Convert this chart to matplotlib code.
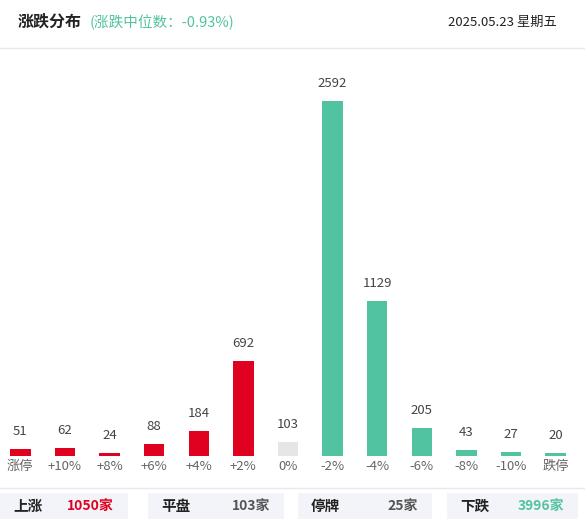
import matplotlib
matplotlib.use("Agg")
import matplotlib.pyplot as plt
from matplotlib.patches import Rectangle

plt.rcParams['font.family'] = ['Noto Sans CJK SC', 'DejaVu Sans']

categories = ['涨停', '+10%', '+8%', '+6%', '+4%', '+2%', '0%', '-2%', '-4%', '-6%', '-8%', '-10%', '跌停']
values = [51, 62, 24, 88, 184, 692, 103, 2592, 1129, 205, 43, 27, 20]
kinds = ['up'] * 6 + ['flat'] + ['down'] * 6
summary_labels = ['上涨', '平盘', '停牌', '下跌']
summary_values = ['1050家', '103家', '25家', '3996家']

RED = '#E0001F'
GREEN = '#52C3A0'
GRAY = '#E6E6E6'
cmap = {'up': RED, 'flat': GRAY, 'down': GREEN}

W, H = 585, 530
fig = plt.figure(figsize=(W / 100, H / 100), dpi=100)

def fx(px): return px / W
def fy(py): return 1 - py / H

ax = fig.add_axes([fx(-2), fy(456), fx(580), fy(50) - fy(456)])
x = range(len(values))
ax.bar(x, values, width=0.46, color=[cmap[k] for k in kinds])
ax.set_xlim(-0.5, len(values) - 0.5)
ax.set_ylim(0, 2592 * 406 / 355)
for i, v in zip(x, values):
    ax.text(i, v + 80, str(v), ha='center', va='bottom', fontsize=9.5, color='#444444')
ax.set_xticks(list(x))
ax.set_xticklabels(categories, fontsize=9.5, color='#666666')
ax.tick_params(length=0, pad=3)
for s in ax.spines.values():
    s.set_visible(False)
ax.set_yticks([])

# header
fig.text(fx(18), fy(22), '涨跌分布', fontsize=11.5, fontweight='bold', color='#222222', va='center')
fig.text(fx(90), fy(22), '(涨跌中位数：-0.93%)', fontsize=10.5, color=GREEN, va='center')
fig.text(fx(557), fy(22), '2025.05.23 星期五', fontsize=9.5, color='#222222', va='center', ha='right')
fig.add_artist(plt.Line2D([0, 1], [fy(48), fy(48)], color='#E8E8EE', lw=1))
fig.add_artist(plt.Line2D([0, 1], [fy(488), fy(488)], color='#E8E8EE', lw=1))

boxes = [(0, 128), (148, 284), (298, 432), (447, 578)]
vcolors = [RED, '#555555', '#555555', GREEN]
for (x0, x1), lab, val, c in zip(boxes, summary_labels, summary_values, vcolors):
    fig.add_artist(Rectangle((fx(x0), fy(519)), fx(x1 - x0), fy(493) - fy(519),
                             facecolor='#F3F4F9', edgecolor='none'))
    fig.text(fx(x0 + 13), fy(506), lab, fontsize=10.5, fontweight='bold', color='#222222', va='center')
    fig.text(fx(x1 - 14), fy(506), val, fontsize=10, fontweight='bold', color=c, va='center', ha='right')

fig.savefig('out.png', dpi=100, facecolor='white')
